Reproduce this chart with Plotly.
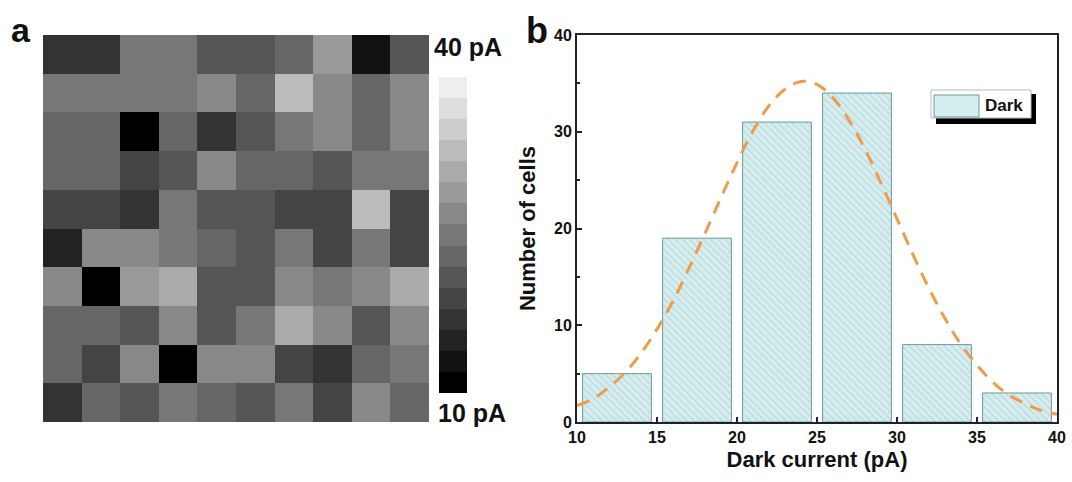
import plotly.graph_objects as go

W, H = 1072, 482

# ---------------- data ----------------
# panel a: dark current map (pA), rows top -> bottom
row0 = [16.4, 16.4, 25.6, 25.6, 20.6, 20.6, 23.8, 28.8, 13.8, 20.6]
row1 = [25.9, 25.9, 25.9, 25.9, 27.5, 22.8, 32.0, 27.5, 22.8, 27.5]
row2 = [23.8, 23.8, 10.0, 23.3, 16.4, 20.6, 25.3, 27.5, 22.8, 27.5]
row3 = [22.0, 23.8, 19.3, 21.3, 27.5, 23.3, 23.3, 20.6, 25.3, 25.3]
row4 = [19.3, 19.3, 17.3, 25.3, 20.6, 20.6, 18.5, 18.5, 32.0, 18.5]
row5 = [14.8, 27.5, 27.5, 24.9, 22.8, 20.6, 25.3, 18.5, 25.3, 18.5]
row6 = [27.3, 10.0, 29.1, 31.3, 20.6, 20.6, 27.5, 25.3, 27.5, 31.3]
row7 = [22.8, 22.8, 20.6, 27.3, 20.6, 24.9, 31.3, 27.5, 20.6, 27.5]
row8 = [23.3, 18.5, 27.5, 10.0, 27.5, 27.5, 18.5, 16.4, 23.8, 25.3]
row9 = [17.3, 23.3, 21.3, 25.9, 23.3, 20.6, 25.3, 18.5, 27.5, 23.3]
map_rows = [row0, row1, row2, row3, row4, row5, row6, row7, row8, row9]
cbar_labels = ["40 pA", "10 pA"]

# panel b: histogram
bin_centers = [12.5, 17.5, 22.5, 27.5, 32.5, 37.5]
bin_counts = [5, 19, 31, 34, 8, 3]
# Gaussian fit curve
fit_x = [10, 11, 12, 13, 14, 15, 16, 17, 18, 19, 20, 21, 22, 23, 24, 25,
         26, 27, 28, 29, 30, 31, 32, 33, 34, 35, 36, 37, 38, 39, 40]
fit_y = [1.7, 2.4, 3.6, 5.1, 7.1, 9.6, 12.5, 15.9, 19.5, 23.2, 26.8, 30.1,
         32.7, 34.4, 35.2, 34.9, 33.5, 31.2, 28.2, 24.7, 21.0, 17.3, 13.8,
         10.7, 8.0, 5.9, 4.1, 2.8, 1.9, 1.2, 0.8]
x_ticks = [10, 15, 20, 25, 30, 35, 40]
y_ticks = [0, 10, 20, 30, 40]
legend_name = "Dark"

FONT = "Liberation Sans, Arial, sans-serif"


def px(x):
    return x / W


def py(y):
    return 1 - y / H


# discrete grey colorscale, 15 steps
n = 15
cs = []
for k in range(n):
    g = round(k * 238 / (n - 1))
    c = f"rgb({g},{g},{g})"
    cs.append([k / n, c])
    cs.append([(k + 1) / n, c])

fig = go.Figure()

fig.add_trace(go.Heatmap(
    z=map_rows, zmin=10, zmax=40, colorscale=cs, xaxis="x", yaxis="y",
    showscale=True,
    colorbar=dict(x=px(439), xanchor="left", xpad=0, y=py(77), yanchor="top",
                  ypad=0, len=316 / H, lenmode="fraction", thickness=28,
                  outlinewidth=0, showticklabels=False, ticks=""),
    hoverinfo="skip",
))

fig.add_trace(go.Bar(
    x=bin_centers, y=bin_counts, width=4.3, xaxis="x2", yaxis="y2",
    marker=dict(color="#d4edef", line=dict(color="#6d9a9d", width=1),
                pattern=dict(shape="\\", fgcolor="#98b3b5", size=5, solidity=0.18)),
    name=legend_name, showlegend=False,
))

fig.add_trace(go.Scatter(
    x=fit_x, y=fit_y, mode="lines", line_shape="spline", xaxis="x2", yaxis="y2",
    line=dict(color="#ee9c4c", width=3, dash="13px,9px"), showlegend=False,
))

axis_common = dict(showline=True, mirror=True, linecolor="#222", linewidth=2,
                   showgrid=False, zeroline=False, ticks="inside", ticklen=5,
                   tickwidth=1.5, tickcolor="#222", automargin=False,
                   tickfont=dict(family=FONT, size=16, color="#111", weight="bold"))

fig.update_layout(
    width=W, height=H, margin=dict(l=0, r=0, t=0, b=0),
    paper_bgcolor="white", plot_bgcolor="white", showlegend=False,
    xaxis=dict(domain=[px(43), px(429)], range=[-0.5, 9.5], visible=False),
    yaxis=dict(domain=[py(422), py(35)], range=[9.5, -0.5], visible=False),
    xaxis2=dict(domain=[px(577), px(1057)], range=[10, 40], tickvals=x_ticks,
                anchor="y2",
                title=dict(text="Dark current (pA)", standoff=6,
                           font=dict(family=FONT, size=22, color="#111", weight="bold")),
                **axis_common),
    yaxis2=dict(domain=[py(422), py(35)], range=[0, 40], tickvals=y_ticks,
                anchor="x2", minor=dict(dtick=5, ticks="inside", ticklen=3,
                                        tickcolor="#222"),
                title=dict(text="Number of cells", standoff=12,
                           font=dict(family=FONT, size=22, color="#111", weight="bold")),
                **axis_common),
)


def note(text, x, y, size, xanchor="center"):
    return dict(text=text, x=px(x), y=py(y), xref="paper", yref="paper",
                xanchor=xanchor, yanchor="middle", showarrow=False,
                font=dict(family=FONT, size=size, color="#111", weight="bold"))


ann = [
    note("a", 21, 30, 34),
    note("b", 537, 30, 36),
    note(cbar_labels[0], 432, 47, 25, "left"),
    note(cbar_labels[1], 436, 413, 25, "left"),
    note(legend_name, 983, 105, 17, "left"),
]
fig.update_layout(annotations=ann)

shapes = []
# legend shadow, frame, swatch
shapes.append(dict(type="rect", xref="paper", yref="paper",
                   x0=px(936), x1=px(1036), y0=py(124), y1=py(94),
                   fillcolor="black", line=dict(width=0), layer="above"))
shapes.append(dict(type="rect", xref="paper", yref="paper",
                   x0=px(931), x1=px(1031), y0=py(118), y1=py(90),
                   fillcolor="white", line=dict(color="#bbb", width=1), layer="above"))
shapes.append(dict(type="rect", xref="paper", yref="paper",
                   x0=px(934), x1=px(979), y0=py(117), y1=py(95),
                   fillcolor="#d4edef", line=dict(color="#6d9a9d", width=1), layer="above"))
fig.update_layout(shapes=shapes)

fig.write_html("out.html")
